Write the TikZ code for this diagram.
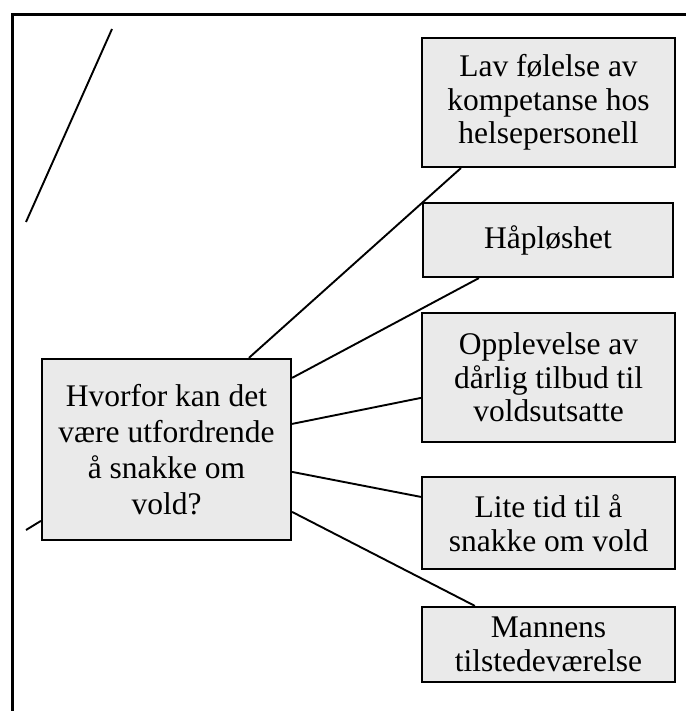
\documentclass[tikz,border=0pt]{standalone}
\usepackage{fontspec}
\setmainfont{Liberation Serif}
\definecolor{boxgray}{HTML}{EAEAEA}
\tikzset{
    causebox/.style={draw, line width=2.2pt, fill=boxgray, align=center, inner sep=0pt,
        minimum width=253pt, font=\fontsize{31.5}{33.5}\selectfont},
    link/.style={line width=1.9pt}
}
\begin{document}
\begin{tikzpicture}[x=1pt, y=-1pt]
                \useasboundingbox (0, 0) rectangle (686, 711);
                \draw (12, 711)--(12, 15)--(686, 15) [line width=3pt];
                \node (q) at (166.5, 449.5) [causebox, minimum width=249pt, minimum height=181pt,
                    font=\fontsize{31.5}{36}\selectfont] {Hvorfor kan det\\være utfordrende\\å snakke om\\vold?};
                \node (lav) at (548.5, 102.5) [causebox, minimum height=129pt] {Lav følelse av\\kompetanse hos\\helsepersonell};
                \node (haap) at (548, 240) [causebox, minimum width=250pt, minimum height=74pt] {Håpløshet};
                \node (oppl) at (548.5, 377.5) [causebox, minimum height=129pt] {Opplevelse av\\dårlig tilbud til\\voldsutsatte};
                \node (tid) at (548.5, 523) [causebox, minimum height=92pt] {Lite tid til å\\snakke om vold};
                \node (mann) at (548.5, 644.5) [causebox, minimum height=75pt] {Mannens\\tilstedeværelse};
                \coordinate (c1) at (112, 29);
                \coordinate (c2) at (26, 222);
                \coordinate (c3) at (26, 530);
                \draw (c1)--(c2) [link];
                \draw (c3)--([yshift=-163pt]q.north west) [link];
                \draw ([xshift=208pt]q.north west)--([xshift=40pt]lav.south west) [link];
                \draw ([yshift=-20pt]q.north east)--([xshift=57pt]haap.south west) [link];
                \draw ([yshift=-66pt]q.north east)--([yshift=-86pt]oppl.north west) [link];
                \draw ([yshift=-114pt]q.north east)--([yshift=-21pt]tid.north west) [link];
                \draw ([yshift=-154pt]q.north east)--([xshift=54pt]mann.north west) [link];
            \end{tikzpicture}
\end{document}
